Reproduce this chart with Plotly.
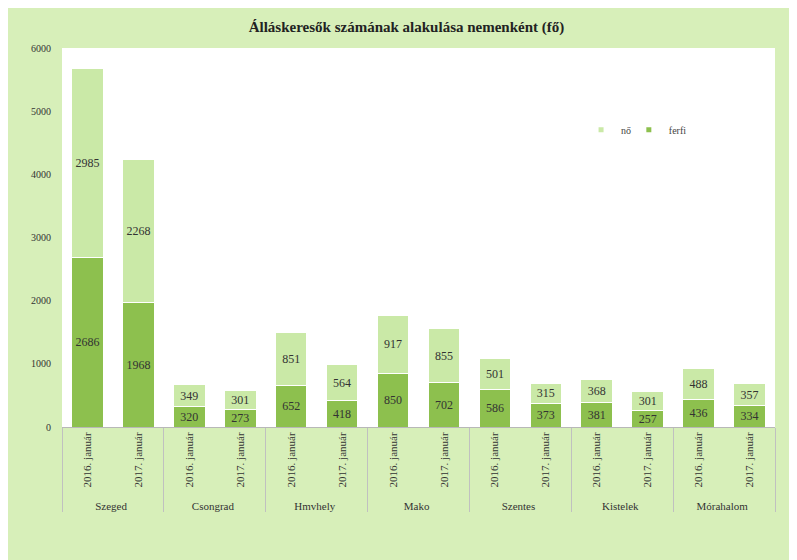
import plotly.graph_objects as go

towns = ["Szeged", "Csongrad", "Hmvhely", "Mako", "Szentes", "Kistelek", "Mórahalom"]
periods = ["2016. január", "2017. január"]
no_vals = [2985, 2268, 349, 301, 851, 564, 917, 855, 501, 315, 368, 301, 488, 357]
ferfi_vals = [2686, 1968, 320, 273, 652, 418, 850, 702, 586, 373, 381, 257, 436, 334]
y_ticks = [0, 1000, 2000, 3000, 4000, 5000, 6000]

outer = [t for t in towns for _ in periods]
inner = [p for _ in towns for p in periods]

FONT = "Liberation Serif"
C_FERFI = "#8dc04e"
C_NO = "#cae9a7"
BG = "#d7efb9"

fig = go.Figure()
fig.add_trace(go.Bar(
    x=[outer, inner], y=ferfi_vals, name="ferfi", showlegend=False,
    marker=dict(color=C_FERFI, line=dict(color="white", width=1)),
    text=[str(v) for v in ferfi_vals], textposition="inside", insidetextanchor="middle",
    textfont=dict(family=FONT, size=12, color="#333333"), textangle=0,
))
fig.add_trace(go.Bar(
    x=[outer, inner], y=no_vals, name="nő", showlegend=False,
    marker=dict(color=C_NO, line=dict(color="white", width=1)),
    text=[str(v) for v in no_vals], textposition="inside", insidetextanchor="middle",
    textfont=dict(family=FONT, size=12, color="#333333"), textangle=0,
))
# legend entries with small square markers
fig.add_trace(go.Scatter(x=[[towns[0]], [periods[0]]], y=[None], mode="markers", name="nő",
                         legend="legend",
                         marker=dict(symbol="square", size=5, color=C_NO)))
fig.add_trace(go.Scatter(x=[[towns[0]], [periods[0]]], y=[None], mode="markers", name="ferfi",
                         legend="legend2",
                         marker=dict(symbol="square", size=5, color=C_FERFI)))

W, H = 797, 560
l, r, t, b = 54, 30, 40, 141
n_cat = len(outer)

leg_common = dict(orientation="h", yanchor="middle", xanchor="left", y=0.784,
                  bgcolor="rgba(0,0,0,0)", font=dict(family=FONT, size=10, color="#444444"),
                  itemwidth=30)

fig.update_layout(
    width=W, height=H,
    barmode="stack", bargap=0.38,
    paper_bgcolor=BG, plot_bgcolor="white",
    margin=dict(l=l, r=r, t=t, b=b, autoexpand=False),
    font=dict(family=FONT, size=11, color="#333333"),
    uniformtext=dict(minsize=12, mode="show"),
    title=dict(text="<b>Álláskeresők számának alakulása nemenként (fő)</b>",
               x=0.5, xanchor="center", y=1 - 19 / H, yanchor="middle",
               font=dict(family=FONT, size=15, color="#222222")),
    legend=dict(x=0.728, **leg_common),
    legend2=dict(x=0.795, **leg_common),
    xaxis=dict(type="multicategory", tickangle=-90, showline=True, linecolor="#b8b8b8",
               range=[-0.5, n_cat - 0.5],
               showdividers=True, dividercolor="#c0c0c0", dividerwidth=1, automargin=False,
               tickfont=dict(family=FONT, size=11, color="#333333"), ticks=""),
    yaxis=dict(range=[0, 6000], tickvals=y_ticks, showgrid=False, zeroline=False,
               automargin=False,
               tickfont=dict(family=FONT, size=10, color="#333333"), ticks="",
               ticklabelstandoff=10),
)

fig.write_html("out.html")
